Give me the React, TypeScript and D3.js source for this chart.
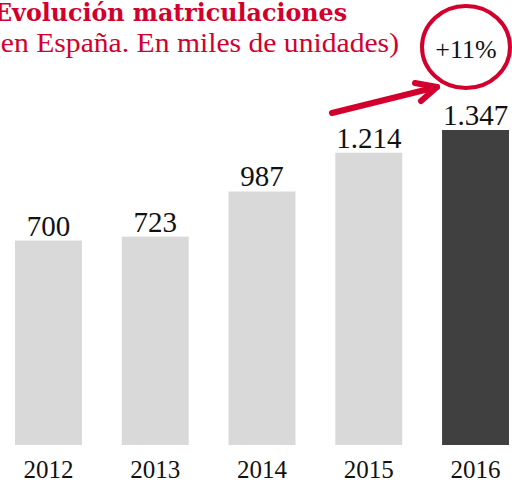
import React from "react";
import * as d3 from "d3";

const years = ["2012", "2013", "2014", "2015", "2016"];
const values = [700, 723, 987, 1214, 1347];
const valueLabels = ["700", "723", "987", "1.214", "1.347"];
const title = "Evolución matriculaciones";
const subtitle = "(en España. En miles de unidades)";
const growthLabel = "+11%";

const W = 512;
const H = 482;
const RED = "#d3002d";

export default function App() {
  const x = d3.scaleBand<string>().domain(years).range([15, 509]).paddingInner(0.373).paddingOuter(0);
  const y = d3.scaleLinear().domain([-497, 1347]).range([445, 130]);
  const last = years.length - 1;

  const arrowTail: [number, number] = [332, 113];
  const arrowTip: [number, number] = [437, 87];
  const line = d3.line();

  return (
    <svg width={W} height={H} style={{ position: "absolute", left: 0, top: 0, background: "#fff" }}>
      <text x={-6} y={21} fill={RED} fontFamily="'DejaVu Serif', serif" fontWeight="bold" fontSize={25}
        textLength={353} lengthAdjust="spacingAndGlyphs">{title}</text>
      <text x={-9} y={52} fill={RED} fontFamily="'Liberation Serif', serif" fontSize={27}
        textLength={408} lengthAdjust="spacingAndGlyphs">{subtitle}</text>

      {years.map((yr, i) => (
        <g key={yr}>
          <rect x={x(yr)} y={y(values[i])} width={x.bandwidth()} height={y(-497) - y(values[i])}
            fill={i === last ? "#404040" : "#d9d9d9"} />
          <text x={(x(yr) as number) + x.bandwidth() / 2} y={y(values[i]) - 5} textAnchor="middle"
            fontFamily="'Liberation Serif', serif" fontSize={29} fill="#111">{valueLabels[i]}</text>
          <text x={(x(yr) as number) + x.bandwidth() / 2} y={478} textAnchor="middle"
            fontFamily="'Liberation Serif', serif" fontSize={25} fill="#111">{yr}</text>
        </g>
      ))}

      <ellipse cx={466} cy={47} rx={44} ry={41} fill="none" stroke={RED} strokeWidth={4} />
      <text x={466} y={58} textAnchor="middle" fontFamily="'Liberation Serif', serif" fontSize={26} fill="#111">{growthLabel}</text>

      <path d={line([arrowTail, arrowTip]) as string} stroke={RED} strokeWidth={6} fill="none" strokeLinecap="round" />
      <path d={line([[415, 83], arrowTip, [421, 101]]) as string} stroke={RED} strokeWidth={6} fill="none"
        strokeLinecap="round" strokeLinejoin="round" />
    </svg>
  );
}
